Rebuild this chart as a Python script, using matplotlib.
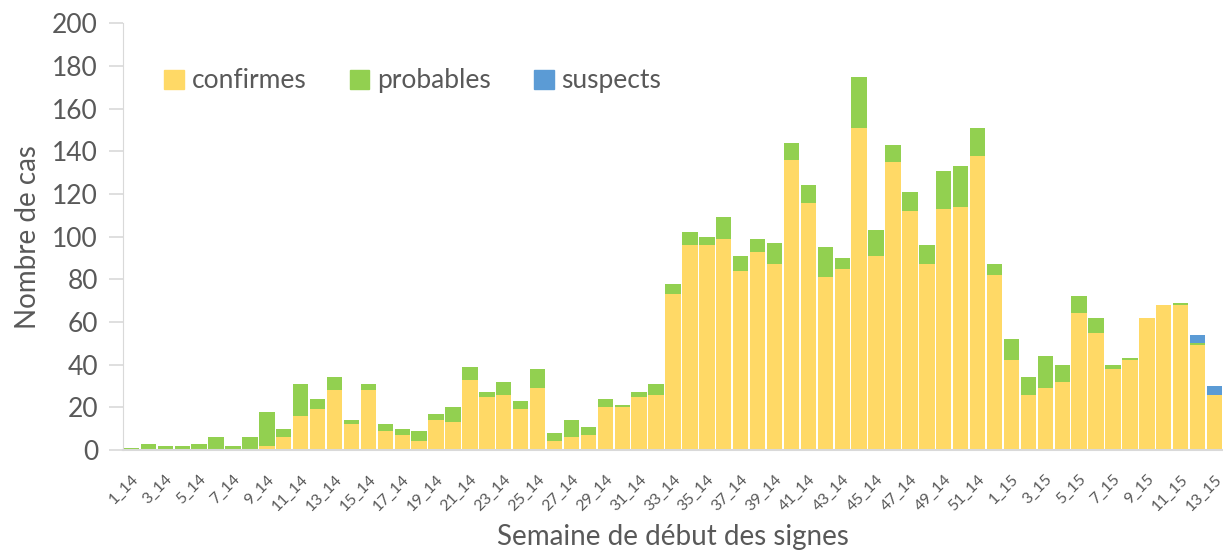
import numpy as np
import matplotlib
matplotlib.use('Agg')
import matplotlib.pyplot as plt
from matplotlib.patches import Patch

weeks = ['%d_14' % i for i in range(1, 53)] + ['%d_15' % i for i in range(1, 14)]

confirmes = [0, 0, 0, 0, 0, 0, 0, 0, 2, 6,
             16, 19, 28, 12, 28, 9, 7, 4, 14, 13,
             33, 25, 26, 19, 29, 4, 6, 7, 20, 20,
             25, 26, 73, 96, 96, 99, 84, 93, 87, 136,
             116, 81, 85, 151, 91, 135, 112, 87, 113, 114,
             138, 82,
             42, 26, 29, 32, 64, 55, 38, 42, 62, 68, 68, 49, 26]
probables = [1, 3, 2, 2, 3, 6, 2, 6, 16, 4,
             15, 5, 6, 2, 3, 3, 3, 5, 3, 7,
             6, 2, 6, 4, 9, 4, 8, 4, 4, 1,
             2, 5, 5, 6, 4, 10, 7, 6, 10, 8,
             8, 14, 5, 24, 12, 8, 9, 9, 18, 19,
             13, 5,
             10, 8, 15, 8, 8, 7, 2, 1, 0, 0, 1, 1, 0]
suspects = [0] * 63 + [4, 4]

C_CONF = '#FFD966'
C_PROB = '#92D050'
C_SUSP = '#5B9BD5'
GREY = '#595959'

plt.rcParams['font.family'] = ['Lato', 'DejaVu Sans']

fig = plt.figure(figsize=(12.23, 5.52), dpi=100)
ax = fig.add_axes([0.1006, 0.1848, 0.8994, 0.7730])

x = np.arange(len(weeks))
conf = np.array(confirmes)
prob = np.array(probables)
susp = np.array(suspects)
w = 0.91
ax.bar(x, conf, w, color=C_CONF, linewidth=0)
ax.bar(x, prob, w, bottom=conf, color=C_PROB, linewidth=0)
ax.bar(x, susp, w, bottom=conf + prob, color=C_SUSP, linewidth=0)

ax.set_xlim(-0.5, len(weeks) - 0.5)
ax.set_ylim(0, 200)
ax.set_yticks(range(0, 201, 20))
ax.tick_params(axis='y', labelsize=19, colors='#D9D9D9', labelcolor=GREY, length=10, width=1.2, pad=8)
ax.set_xticks(x[::2])
ax.set_xticklabels(weeks[::2], rotation=45, ha='right', rotation_mode='anchor',
                   fontsize=11.5, color=GREY)
ax.tick_params(axis='x', length=0, pad=16)

for s in ['top', 'right']:
    ax.spines[s].set_visible(False)
ax.spines['left'].set_color('#D9D9D9')
ax.spines['bottom'].set_color('#D9D9D9')
ax.spines['bottom'].set_linewidth(1.5)

ax.set_ylabel('Nombre de cas', fontsize=20, color=GREY, labelpad=8)
ax.set_xlabel('Semaine de début des signes', fontsize=20, color=GREY, va='center')
ax.xaxis.set_label_coords(0.5, -0.205)

handles = [Patch(color=C_CONF), Patch(color=C_PROB), Patch(color=C_SUSP)]
ax.legend(handles, ['confirmes', 'probables', 'suspects'], ncol=3, frameon=False,
          loc='upper left', bbox_to_anchor=(0.016, 0.95), fontsize=19, labelcolor=GREY,
          handlelength=0.75, handleheight=0.75, handletextpad=0.3, columnspacing=1.62)

fig.savefig('out.png', dpi=100)
